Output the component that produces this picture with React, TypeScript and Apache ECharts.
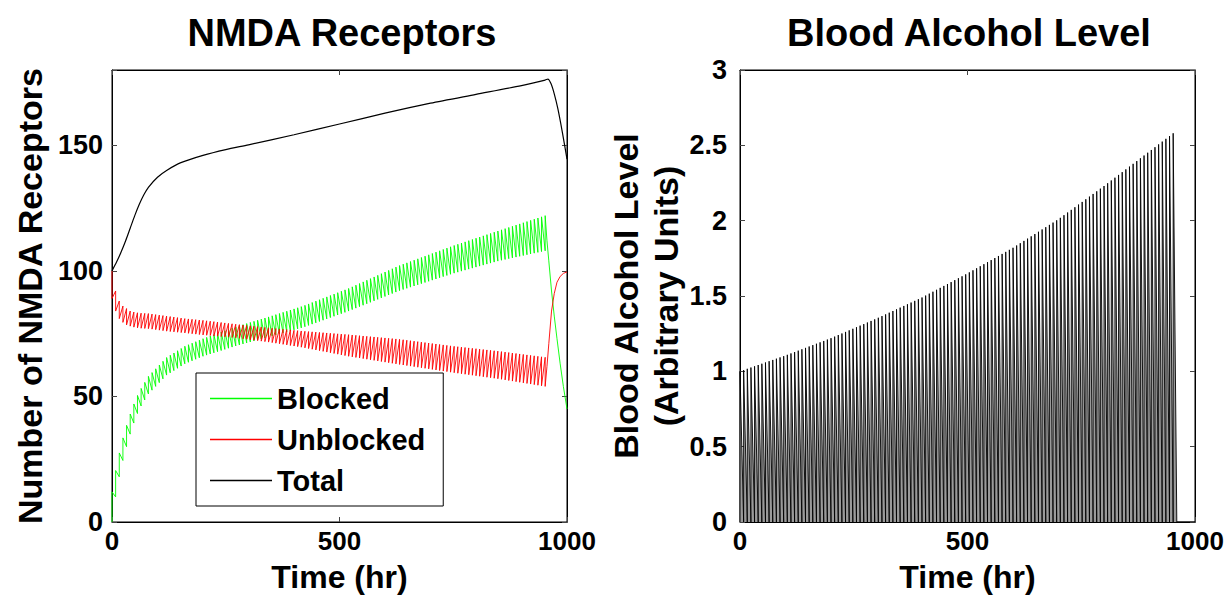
import React, { useEffect, useRef } from "react";
import * as echarts from "echarts";

// ---- Data ----
const doseTimes = Array.from({ length: 120 }, (_, k) => k * 8); // a dose every 8 hr, 0..952

// Envelopes of the oscillating NMDA curves (sample times in hr)
const envTimes = [0, 8, 16, 24, 32, 40, 50, 60, 80, 120, 160, 200, 270, 350, 420, 520, 630, 750, 850, 952];
const blockedPeak = [12, 20.5, 27.5, 33.5, 38.5, 43, 48, 52, 58, 65.5, 70, 73, 77.6, 82, 86, 93, 102, 110, 116, 122];
const blockedTrough = [0, 10, 18, 24.5, 30, 35, 40.5, 45, 51, 58.5, 63, 66, 70, 74, 77.5, 84, 92, 99, 104, 108];
const unblockedPeak = [100, 92, 88, 86, 85, 84, 83.5, 83.2, 83, 82, 81, 80.3, 78.8, 77.2, 76, 74.6, 72.8, 70, 68, 65.6];
const unblockedTrough = [89, 84, 81, 79.5, 78.5, 78, 77.5, 77.2, 77, 76, 75.3, 74.5, 73.4, 71.5, 69.5, 66, 62.8, 59.5, 57, 54];

// After the last dose
const tailTimes = [956, 960, 966, 972, 978, 985, 992, 1000];
const blockedTail = [112, 104, 92, 82, 73, 63, 54, 45];
const unblockedTail = [62, 71, 84, 91, 95.5, 97.8, 99, 99.6];

// Total receptors (smooth)
const totalTimes = [0, 10, 20, 30, 40, 50, 60, 70, 80, 100, 120, 150, 200, 250, 300, 400, 500, 600, 700, 800, 900, 952, 958, 965, 972, 980, 990, 1000];
const totalValues = [100, 103.5, 107.5, 112, 117, 122, 126.5, 130.3, 133.3, 137.3, 140, 143, 146, 148.3, 150.2, 154.2, 158.5, 162.8, 166.8, 170.3, 173.8, 176, 176.4, 174.5, 170.5, 164.5, 155, 144.5];

// Blood alcohol peak envelope
const balTimes = [0, 100, 200, 300, 400, 500, 600, 700, 800, 900, 952];
const balPeak = [1.0, 1.105, 1.22, 1.35, 1.49, 1.65, 1.82, 2.01, 2.23, 2.46, 2.58];
const balTrough = 0;

const xTicks = [0, 500, 1000];
const leftYTicks = [0, 50, 100, 150];
const rightYTicks = [0, 0.5, 1, 1.5, 2, 2.5, 3];

function envAt(times: number[], vals: number[], t: number) {
  if (t <= times[0]) return vals[0];
  for (let i = 1; i < times.length; i++) {
    if (t <= times[i]) {
      const f = (t - times[i - 1]) / (times[i] - times[i - 1]);
      return vals[i - 1] + f * (vals[i] - vals[i - 1]);
    }
  }
  return vals[vals.length - 1];
}

function buildBlocked() {
  const d: number[][] = [];
  doseTimes.forEach((t) => {
    d.push([t, envAt(envTimes, blockedTrough, t)]);
    d.push([t, envAt(envTimes, blockedPeak, t)]);
  });
  tailTimes.forEach((t, i) => d.push([t, blockedTail[i]]));
  return d;
}
function buildUnblocked() {
  const d: number[][] = [];
  doseTimes.forEach((t) => {
    d.push([t, envAt(envTimes, unblockedPeak, t)]);
    d.push([t, envAt(envTimes, unblockedTrough, t)]);
  });
  tailTimes.forEach((t, i) => d.push([t, unblockedTail[i]]));
  return d;
}
function buildBAL() {
  const d: number[][] = [];
  doseTimes.forEach((t) => {
    d.push([t, balTrough]);
    d.push([t, envAt(balTimes, balPeak, t)]);
  });
  d.push([doseTimes[doseTimes.length - 1] + 8, balTrough]);
  d.push([1000, balTrough]);
  return d;
}

const FONT = "'Liberation Sans', Arial, Helvetica, sans-serif";

export default function App() {
  const ref = useRef<HTMLDivElement>(null);
  useEffect(() => {
    if (!ref.current) return;
    const chart = echarts.init(ref.current, undefined, { renderer: "svg" });
    const tickFont = { fontFamily: FONT, fontWeight: "bold" as const, fontSize: 27, color: "#000" };
    const nameFont = { fontFamily: FONT, fontWeight: "bold" as const, fontSize: 34, color: "#000" };
    const grids = [
      { left: 112, top: 70, width: 455, height: 452 },
      { left: 740, top: 70, width: 455, height: 452 },
    ];
    const fmt = (v: number) => String(v);
    const mainX = (gi: number) => ({
      type: "value",
      gridIndex: gi,
      min: 0,
      max: 1000,
      interval: 500,
      name: "Time (hr)",
      nameLocation: "middle",
      nameGap: 40,
      nameMoveOverlap: false,
      nameTextStyle: { ...nameFont, fontSize: 32, lineHeight: 30 },
      axisLine: { show: true, onZero: false, lineStyle: { color: "#000", width: 1 } },
      axisTick: { show: true, inside: true, length: 5, lineStyle: { color: "#444" } },
      axisLabel: { ...tickFont, fontSize: 26, lineHeight: 24, margin: 7, customValues: xTicks, formatter: fmt },
      splitLine: { show: false },
    });
    const mirrorX = (gi: number) => ({
      type: "value",
      gridIndex: gi,
      position: "top",
      min: 0,
      max: 1000,
      interval: 500,
      axisLine: { show: true, onZero: false, lineStyle: { color: "#000", width: 1 } },
      axisTick: { show: true, inside: true, length: 5, lineStyle: { color: "#444" } },
      axisLabel: { show: false },
      splitLine: { show: false },
    });
    const option: any = {
      animation: false,
      backgroundColor: "#fff",
      title: [
        { text: "NMDA Receptors", left: 337, top: 9, textAlign: "center", textStyle: { fontFamily: FONT, fontWeight: "bold", fontSize: 38, color: "#000" } },
        { text: "Blood Alcohol Level", left: 964, top: 9, textAlign: "center", textStyle: { fontFamily: FONT, fontWeight: "bold", fontSize: 38, color: "#000" } },
      ],
      grid: grids.map((g) => ({ ...g, show: true, borderColor: "#000", borderWidth: 1, backgroundColor: "#fff", outerBoundsMode: "none", containLabel: false })),
      legend: {
        left: 196,
        top: 373,
        orient: "vertical",
        data: ["Blocked", "Unblocked", "Total"],
        icon: "rect",
        itemWidth: 62,
        itemHeight: 1.5,
        itemGap: 12,
        backgroundColor: "#fff",
        borderColor: "#000",
        borderWidth: 1,
        padding: [11, 18, 11, 14],
        textStyle: { fontFamily: FONT, fontWeight: "bold", fontSize: 29, color: "#000", lineHeight: 27 },
      },
      xAxis: [mainX(0), mainX(1), mirrorX(0), mirrorX(1)],
      yAxis: [
        {
          type: "value",
          gridIndex: 0,
          min: 0,
          max: 180,
          interval: 50,
          name: "Number of NMDA Receptors",
          nameLocation: "middle",
          nameGap: 65,
          nameTextStyle: nameFont,
          axisLine: { show: true, onZero: false, lineStyle: { color: "#000" } },
          axisTick: { show: true, inside: true, length: 5, lineStyle: { color: "#444" } },
          axisLabel: { ...tickFont, margin: 9, customValues: leftYTicks, formatter: fmt },
          splitLine: { show: false },
        },
        {
          type: "value",
          gridIndex: 1,
          min: 0,
          max: 3,
          interval: 0.5,
          name: "Blood Alcohol Level\n(Arbitrary Units)",
          nameLocation: "middle",
          nameGap: 49,
          nameTextStyle: { ...nameFont, lineHeight: 40 },
          axisLine: { show: true, onZero: false, lineStyle: { color: "#000" } },
          axisTick: { show: true, inside: true, length: 5, lineStyle: { color: "#444" } },
          axisLabel: { ...tickFont, margin: 13, customValues: rightYTicks, formatter: fmt },
          splitLine: { show: false },
        },
        {
          type: "value",
          gridIndex: 0,
          position: "right",
          min: 0,
          max: 180,
          interval: 50,
          axisLine: { show: true, onZero: false, lineStyle: { color: "#000" } },
          axisTick: { show: true, inside: true, length: 5, lineStyle: { color: "#444" } },
          axisLabel: { show: false },
          splitLine: { show: false },
        },
        {
          type: "value",
          gridIndex: 1,
          position: "right",
          min: 0,
          max: 3,
          interval: 0.5,
          axisLine: { show: true, onZero: false, lineStyle: { color: "#000" } },
          axisTick: { show: true, inside: true, length: 5, lineStyle: { color: "#444" } },
          axisLabel: { show: false },
          splitLine: { show: false },
        },
      ],
      series: [
        {
          name: "Blocked",
          type: "line",
          xAxisIndex: 0,
          yAxisIndex: 0,
          data: buildBlocked(),
          symbol: "none",
          lineStyle: { color: "#00ff00", width: 0.9 },
          itemStyle: { color: "#00ff00" },
        },
        {
          name: "Unblocked",
          type: "line",
          xAxisIndex: 0,
          yAxisIndex: 0,
          data: buildUnblocked(),
          symbol: "none",
          lineStyle: { color: "#ff0000", width: 0.9 },
          itemStyle: { color: "#ff0000" },
        },
        {
          name: "Total",
          type: "line",
          xAxisIndex: 0,
          yAxisIndex: 0,
          data: totalTimes.map((t, i) => [t, totalValues[i]]),
          symbol: "none",
          smooth: 0.25,
          lineStyle: { color: "#000", width: 1.2 },
          itemStyle: { color: "#000" },
        },
        {
          name: "BAL",
          type: "line",
          xAxisIndex: 1,
          yAxisIndex: 1,
          data: buildBAL(),
          symbol: "none",
          lineStyle: { color: "#000", width: 0.9 },
          areaStyle: { color: "#9a9a9a", opacity: 1 },
          itemStyle: { color: "#000" },
        },
      ],
    };
    chart.setOption(option);
    return () => chart.dispose();
  }, []);
  return <div ref={ref} style={{ position: "fixed", left: 0, top: 0, width: 1229, height: 596 }} />;
}
